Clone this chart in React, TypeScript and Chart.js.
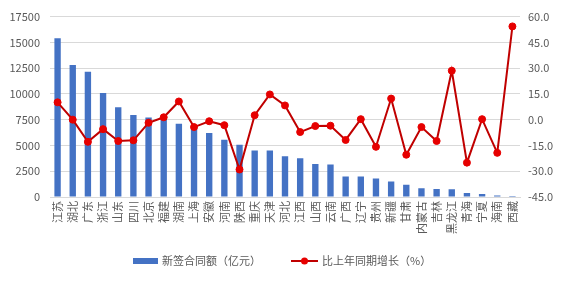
import React, { useEffect, useRef } from "react";
import { Chart, registerables } from "chart.js";
Chart.register(...registerables);

const provinces = ["江苏","湖北","广东","浙江","山东","四川","北京","福建","湖南","上海","安徽","河南","陕西","重庆","天津","河北","江西","山西","云南","广西","辽宁","贵州","新疆","甘肃","内蒙古","吉林","黑龙江","青海","宁夏","海南","西藏"];
const contractAmount = [15400,12800,12150,10100,8700,7950,7700,7650,7100,6700,6200,5550,5070,4500,4500,3950,3750,3200,3150,2000,1980,1800,1500,1200,850,780,750,380,300,150,100];
const growthRate = [10.1,0.0,-12.9,-5.5,-12.4,-12.0,-1.8,1.4,10.6,-4.3,-0.9,-3.2,-29.0,2.6,14.7,8.3,-7.2,-3.7,-3.5,-11.8,0.3,-15.8,12.3,-20.4,-4.3,-12.4,28.5,-25.0,0.3,-19.3,54.3];
const barLabel = "新签合同额（亿元）";
const lineLabel = "比上年同期增长（%）";

const BLUE = "#4472C4";
const RED_LINE = "#C00000";
const RED_PT = "#E60000";
const GRAY = "#595959";
const FONT = "'Noto Sans CJK SC', 'Noto Sans', sans-serif";

const legendPlugin = {
  id: "customLegend",
  afterDraw(chart: any) {
    const ctx = chart.ctx;
    ctx.save();
    const y = 261;
    ctx.fillStyle = BLUE;
    ctx.fillRect(133, y - 3, 25, 6);
    ctx.font = `11px ${FONT}`;
    ctx.fillStyle = GRAY;
    ctx.textBaseline = "middle";
    ctx.textAlign = "left";
    ctx.fillText(barLabel, 162, y);
    ctx.strokeStyle = RED_LINE;
    ctx.lineWidth = 2;
    ctx.beginPath();
    ctx.moveTo(291, y);
    ctx.lineTo(318, y);
    ctx.stroke();
    ctx.fillStyle = RED_PT;
    ctx.beginPath();
    ctx.arc(304.5, y, 3.5, 0, Math.PI * 2);
    ctx.fill();
    ctx.fillStyle = GRAY;
    ctx.fillText(lineLabel, 322, y);
    ctx.restore();
  },
};

export default function App() {
  const ref = useRef<HTMLCanvasElement>(null);
  useEffect(() => {
    document.body.style.margin = "0";
    const chart = new Chart(ref.current!, {
      type: "bar",
      data: {
        labels: provinces,
        datasets: [
          {
            type: "line",
            label: lineLabel,
            data: growthRate,
            yAxisID: "y1",
            borderColor: RED_LINE,
            borderWidth: 2,
            backgroundColor: RED_PT,
            pointBackgroundColor: RED_PT,
            pointBorderColor: RED_PT,
            pointRadius: 3.5,
            pointBorderWidth: 1,
            tension: 0,
            order: 0,
          } as any,
          {
            type: "bar",
            label: barLabel,
            data: contractAmount,
            yAxisID: "y",
            backgroundColor: BLUE,
            barPercentage: 0.42,
            categoryPercentage: 1,
            order: 1,
          },
        ],
      },
      options: {
        animation: false,
        responsive: false,
        maintainAspectRatio: false,
        layout: { padding: { top: 14, left: 0, right: 0, bottom: 0 } },
        plugins: { legend: { display: false }, tooltip: { enabled: false } },
        scales: {
          x: {
            grid: { display: false, drawTicks: false },
            border: { display: true, color: "#D9D9D9" },
            ticks: {
              color: GRAY,
              font: { family: FONT, size: 11 },
              maxRotation: 90,
              minRotation: 90,
              autoSkip: false,
              padding: 4,
            },
            afterFit(scale: any) { scale.height = 84; },
          },
          y: {
            position: "left",
            min: 0,
            max: 17500,
            ticks: { stepSize: 2500, color: GRAY, font: { family: FONT, size: 11 }, padding: 10, callback: (v: any) => String(v) },
            grid: { color: "#D9D9D9", drawTicks: false, lineWidth: 1 },
            border: { display: false },
            afterFit(scale: any) { scale.width = 50; },
          },
          y1: {
            position: "right",
            min: -45,
            max: 60,
            ticks: { stepSize: 15, color: GRAY, font: { family: FONT, size: 11 }, padding: 8, callback: (v: any) => Number(v).toFixed(1) },
            grid: { display: false, drawTicks: false },
            border: { display: false },
            afterFit(scale: any) { scale.width = 46; },
          },
        },
      },
      plugins: [legendPlugin],
    });
    return () => chart.destroy();
  }, []);
  return <canvas ref={ref} width={566} height={281} style={{ display: "block" }} />;
}
